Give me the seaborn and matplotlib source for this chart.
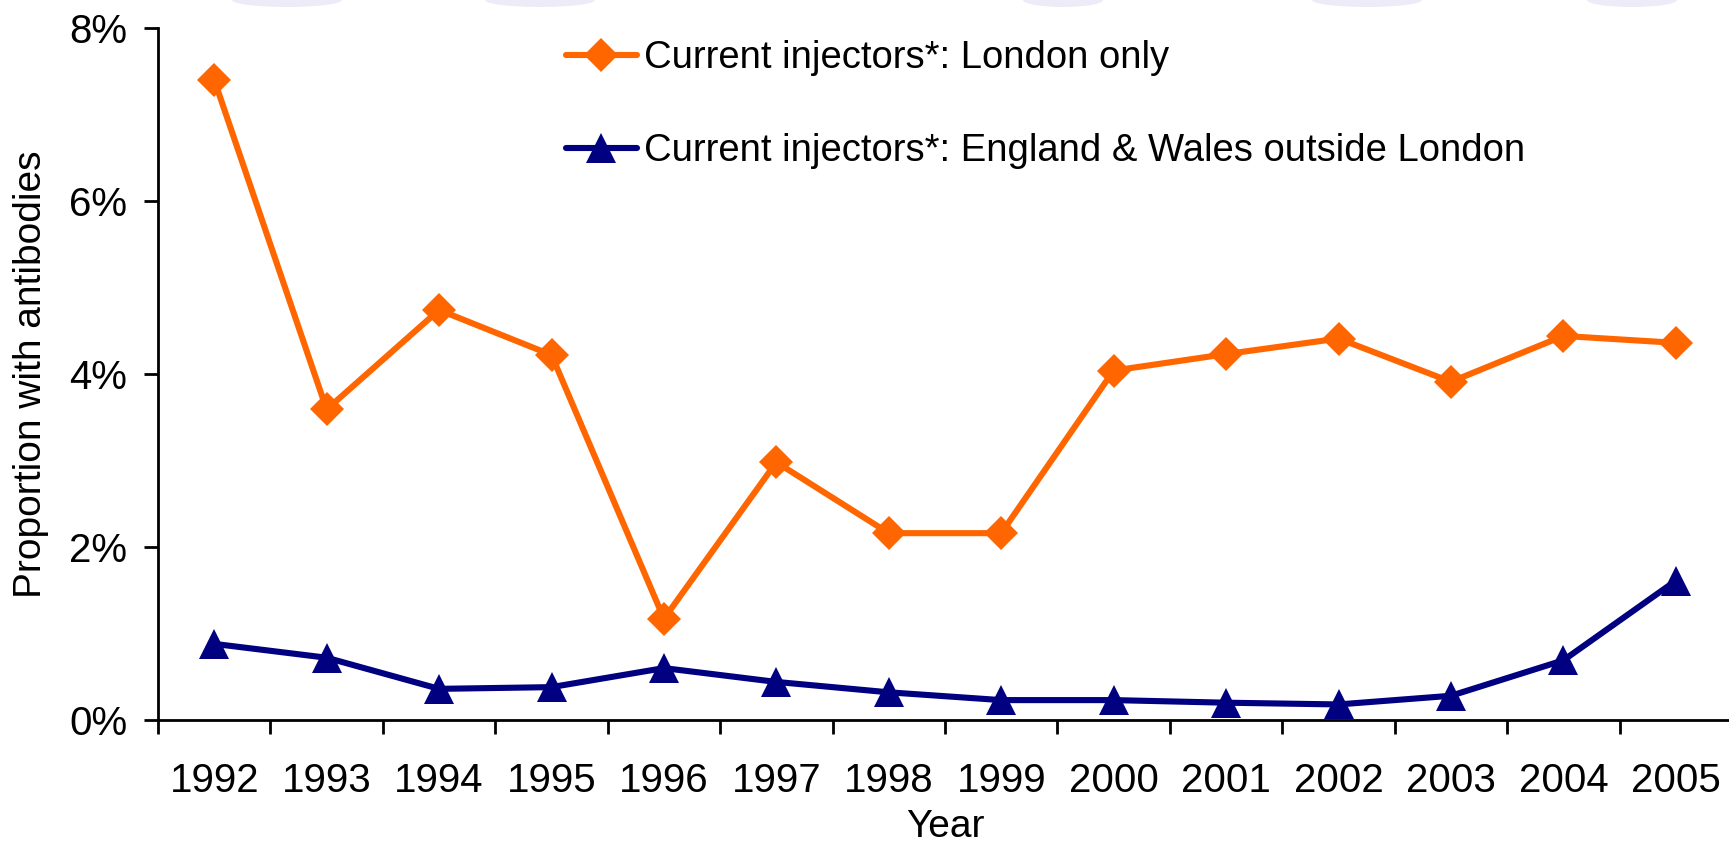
import pandas as pd
import numpy as np
import matplotlib.pyplot as plt
import seaborn as sns
from matplotlib.patches import Ellipse
from matplotlib.ticker import FixedLocator, FuncFormatter

# Datos
years = ['1992', '1993', '1994', '1995', '1996', '1997', '1998',
         '1999', '2000', '2001', '2002', '2003', '2004', '2005']
london = [7.40, 3.59, 4.74, 4.22, 1.17, 2.98, 2.16,
          2.16, 4.04, 4.23, 4.41, 3.91, 4.44, 4.36]
outside = [0.88, 0.72, 0.36, 0.38, 0.60, 0.44, 0.32,
           0.23, 0.23, 0.20, 0.18, 0.28, 0.69, 1.61]
series_names = ['Current injectors*: London only',
                'Current injectors*: England & Wales outside London']
y_ticks = [0, 2, 4, 6, 8]

df_london = pd.DataFrame({'Year': years, 'Value': london, 'Series': series_names[0]})
df_outside = pd.DataFrame({'Year': years, 'Value': outside, 'Series': series_names[1]})

sns.set_style('ticks')
plt.rcParams['font.family'] = ['Liberation Sans', 'DejaVu Sans']
plt.rcParams['text.color'] = 'black'
plt.rcParams['axes.labelcolor'] = 'black'
plt.rcParams['xtick.color'] = 'black'
plt.rcParams['ytick.color'] = 'black'

fig = plt.figure(figsize=(17.29, 8.43), dpi=100)
ax = fig.add_axes([158 / 1729, 1 - 720 / 843, 1574 / 1729, 692 / 843])

# decoracion de fondo (arcos lila en el borde superior)
for cx, w in [(287, 110), (540, 110), (1063, 80), (1367, 110), (1632, 90)]:
    fig.patches.append(Ellipse((cx / 1729, 1.0), w / 1729, 14 / 843,
                               transform=fig.transFigure, facecolor='#ecebf7',
                               edgecolor='none', zorder=0))

# Serie Londres (rombos naranjas)
sns.lineplot(data=df_london, x='Year', y='Value', color='#FF6600',
             marker='D', markersize=17.5, markeredgewidth=0, linewidth=4.4,
             label=series_names[0], ax=ax)
# Serie fuera de Londres (triangulos azul marino)
sns.lineplot(data=df_outside, x='Year', y='Value', color='#000080',
             marker='^', markersize=21, markeredgewidth=0, linewidth=4.4,
             label=series_names[1], ax=ax)

ax.set_xlim(-0.5, len(years) - 0.5)
ax.set_ylim(0, 8)
ax.set_yticks(y_ticks)
ax.yaxis.set_major_formatter(FuncFormatter(lambda v, p: f'{v:.0f}%'))
ax.set_xticks(range(len(years)))
ax.set_xticklabels(years)
ax.xaxis.set_minor_locator(FixedLocator(np.arange(-0.5, len(years), 1.0)))
ax.tick_params(axis='x', which='major', length=0, pad=30, labelsize=29)
ax.tick_params(axis='x', which='minor', length=10, width=2, direction='out')
ax.tick_params(axis='y', length=10, width=2, direction='out', pad=12, labelsize=29)

for s in ['top', 'right']:
    ax.spines[s].set_visible(False)
for s in ['left', 'bottom']:
    ax.spines[s].set_linewidth(2)
    ax.spines[s].set_color('black')

ax.set_xlabel('Year', fontsize=28)
ax.set_ylabel('Proportion with antibodies', fontsize=28)
ax.xaxis.set_label_coords(0.5, -0.128)
ax.yaxis.set_label_coords(-0.069, 0.5)

ax.legend(loc='upper left', bbox_to_anchor=(566 / 1729, 1 - 40 / 843),
          bbox_transform=fig.transFigure, frameon=False, fontsize=27.5,
          handlelength=1.85, handletextpad=0.2, labelspacing=1.5,
          borderaxespad=0, borderpad=0)

plt.savefig('out.png', dpi=100)
